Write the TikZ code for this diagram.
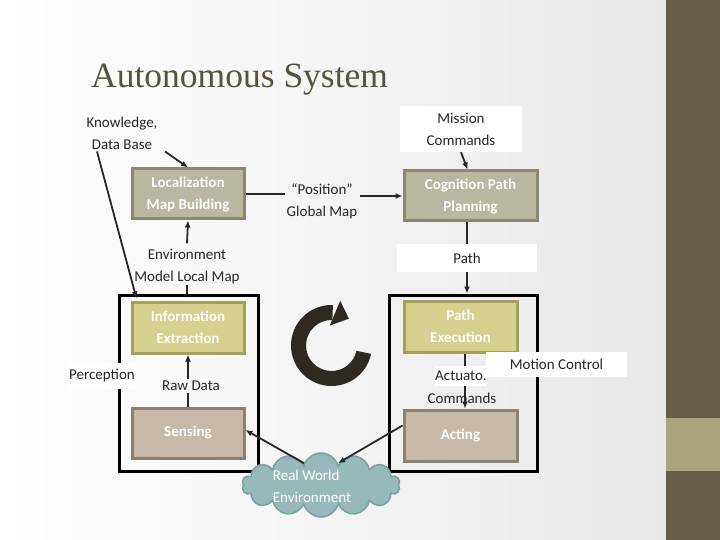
\documentclass[tikz,border=0pt]{standalone}
\usepackage{fontspec}
\setmainfont{Carlito}
\newfontfamily\titlefont{Liberation Serif}
\usetikzlibrary{arrows.meta,shapes.symbols,calc}
\definecolor{barc}{HTML}{665E48}
\definecolor{bandc}{HTML}{A8A57E}
\definecolor{titlec}{HTML}{575240}
\definecolor{txtc}{HTML}{262626}
\definecolor{grayf}{HTML}{B9B7A0}
\definecolor{grayb}{HTML}{8A8870}
\definecolor{yelf}{HTML}{D5D08E}
\definecolor{yelb}{HTML}{A3A05A}
\definecolor{tanf}{HTML}{C6B9A9}
\definecolor{tanb}{HTML}{8C8070}
\definecolor{cloudf}{HTML}{97B9BA}
\definecolor{cloudb}{HTML}{7A9FA0}
\definecolor{ringc}{HTML}{2E2A22}
\tikzset{
  lbl/.style={text=txtc, font=\fontsize{15}{22}\selectfont, align=center, inner sep=2pt},
  wlbl/.style={lbl, fill=white},
  stagebox/.style={draw, line width=3pt, minimum width=112pt, minimum height=50pt, inner sep=0pt,
     text=white, font=\bfseries\fontsize{15}{22}\selectfont, align=center},
  graybox/.style={stagebox, fill=grayf, draw=grayb},
  yelbox/.style={stagebox, fill=yelf, draw=yelb},
  tanbox/.style={stagebox, fill=tanf, draw=tanb},
  outerbox/.style={draw=black, line width=3pt, inner sep=0pt},
  arr/.style={draw=txtc, line width=1.8pt, -{Latex[length=7pt,width=6pt]}},
  ln/.style={draw=txtc, line width=1.8pt},
}
\begin{document}
\begin{tikzpicture}[x=1pt,y=-1pt]
\useasboundingbox (0,0) rectangle (720,540);
% background
\shade[left color=white, right color=black!9] (0,0) rectangle (666,540);
\fill[barc] (666,0) rectangle (720,540);
\fill[bandc] (666,418) rectangle (720,471);
% title
\node[anchor=base west, inner sep=0pt, text=titlec, font=\titlefont\fontsize{35.5}{40}\selectfont] (title) at (91,88) {Autonomous System};
% outer boxes
\node[outerbox, minimum width=139pt, minimum height=176pt] (pbox) at (188.5,383) {};
\node[outerbox, minimum width=148pt, minimum height=176pt] (mbox) at (463,383) {};
% stage boxes
\node[graybox] (loc) at (188,194) {Localization\\Map Building};
\node[graybox, minimum width=133pt] (cog) at (470.5,196) {Cognition Path\\Planning};
\node[yelbox, minimum height=51pt] (info) at (188,327.5) {Information\\Extraction};
\node[tanbox] (sens) at (188,433) {Sensing};
\node[yelbox, minimum width=113pt, minimum height=51pt] (pe) at (460.5,326.5) {Path\\Execution};
\node[tanbox, minimum width=113pt, minimum height=51pt] (acting) at (460.5,435.5) {Acting};
% cloud
\node[cloud, cloud puffs=14, aspect=2.5, minimum width=158pt, minimum height=64pt, fill=cloudf, draw=cloudb, line width=1.5pt] (cloud) at (321,485) {};
\node[text=white, font=\fontsize{15}{22}\selectfont, align=left, inner sep=0pt] (cloudtxt) at (312,486) {Real World\\Environment};
% labels
\node[lbl] (kb) at (122,133) {Knowledge,\\Data Base};
\node[wlbl, minimum width=122pt, minimum height=46pt] (mc) at (461,129) {Mission\\Commands};
\node[lbl] (pos) at (322,201) {“Position”\\Global Map};
\node[lbl, inner sep=0pt] (env) at (187,267) {Environment\\Model Local Map};
\node[wlbl, minimum width=140pt, minimum height=28pt, inner sep=0pt] (path) at (467,258) {Path};
\node[wlbl, minimum height=26pt, inner sep=1pt] (perc) at (102,376) {Perception};
\node[lbl] (raw) at (191,386) {Raw Data};
\node[wlbl, inner sep=0pt, minimum height=20pt] (actA) at (461,376) {Actuato.};
\node[lbl, inner sep=1pt] (actB) at (462,398) {Commands};
\node[wlbl, minimum width=141pt, minimum height=25pt, inner sep=0pt] (motion) at (556.5,364.5) {Motion Control};
% circular arrow
\begin{scope}[shift={(331.5,345.5)}, yscale=-1]
  \fill[ringc] (-12:40.5) arc[start angle=-12, end angle=-272, radius=40.5]
     -- (88:25.5) arc[start angle=-272, end angle=-12, radius=25.5] -- cycle;
  \fill[ringc] (95:20) -- (79:45.5) -- (57:32) -- cycle;
\end{scope}
% connectors
\draw[arr] ([xshift=43]kb.south) -- (loc.north);
\draw[arr] ([xshift=-25]kb.south) -- ([xshift=6,yshift=2]info.north west);
\draw[ln] (loc.east) -- (loc.east -| pos.west);
\draw[arr] (pos.east |- cog.west) -- (cog.west);
\draw[arr] (mc.south) -- ([xshift=-3]cog.north);
\draw[arr] ([yshift=6]env.north) -- (loc.south);
\draw[ln] (env.south) -- (env.south |- pbox.north);
\draw[arr] (raw.north -| info.south) -- (info.south);
\draw[ln] (sens.north) -- (sens.north |- raw.south);
\draw[arr] (cloud.128) -- ([yshift=3]sens.east);
\draw[arr] ([yshift=10]acting.west) -- (cloud.52);
\draw[ln] (path.north |- cog.south) -- (path.north);
\draw[arr] (path.south) -- (path.south |- mbox.north);
\draw[ln] ([xshift=4.5]pe.south) -- ([xshift=4.5]pe.south |- actA.north);
\draw[arr] ([xshift=4.5]acting.north |- actA.south) -- ([xshift=4.5]acting.north);
\end{tikzpicture}
\end{document}
